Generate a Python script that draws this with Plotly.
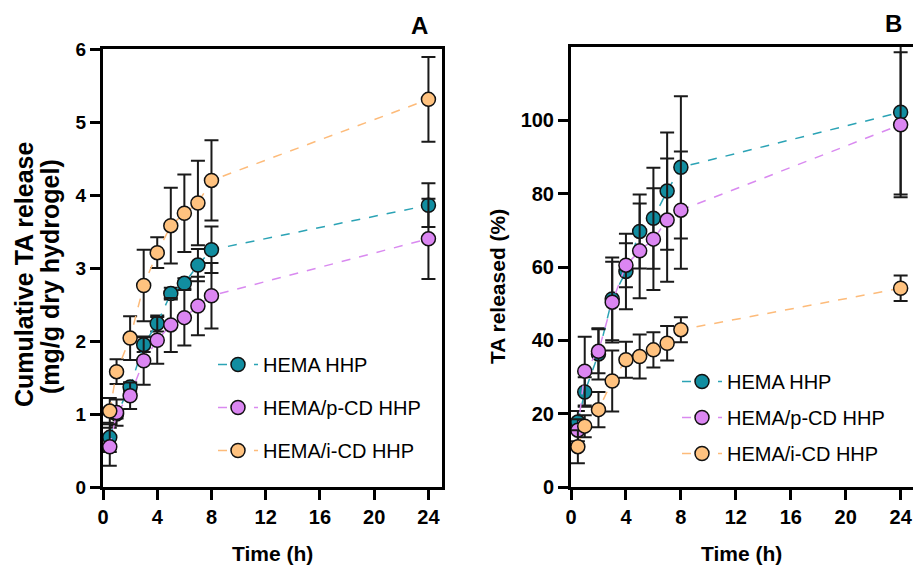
import plotly.graph_objects as go

# ---------------- data ----------------
time_h = [0.5, 1, 2, 3, 4, 5, 6, 7, 8, 24]
series_names = ["HEMA HHP", "HEMA/p-CD HHP", "HEMA/i-CD HHP"]

# Panel A: cumulative TA release (mg/g dry hydrogel)
cum_hema = [0.68, 1.00, 1.37, 1.95, 2.24, 2.65, 2.79, 3.04, 3.25, 3.86]
cum_hema_err = [0.20, 0.06, 0.06, 0.10, 0.11, 0.08, 0.07, 0.22, 0.32, 0.30]
cum_pcd = [0.55, 1.02, 1.25, 1.73, 2.01, 2.22, 2.32, 2.48, 2.62, 3.40]
cum_pcd_err = [0.26, 0.18, 0.18, 0.33, 0.32, 0.37, 0.38, 0.40, 0.45, 0.55]
cum_icd = [1.04, 1.58, 2.04, 2.76, 3.21, 3.58, 3.75, 3.89, 4.20, 5.31]
cum_icd_err = [0.18, 0.17, 0.30, 0.49, 0.21, 0.52, 0.53, 0.58, 0.55, 0.58]

# Panel B: TA released (%)
pct_hema = [17.7, 25.9, 36.3, 51.3, 58.8, 69.7, 73.3, 80.7, 87.2, 102.2]
pct_hema_err = [3.0, 4.0, 7.0, 11.3, 10.3, 10.1, 13.8, 16.0, 19.4, 22.4]
pct_pcd = [15.5, 31.6, 37.0, 50.4, 60.5, 64.4, 67.6, 72.8, 75.5, 98.8]
pct_pcd_err = [3.0, 9.4, 6.0, 11.0, 6.0, 12.9, 13.9, 16.8, 16.0, 19.8]
pct_icd = [11.0, 16.6, 21.1, 28.9, 34.7, 35.6, 37.4, 39.2, 42.9, 54.2]
pct_icd_err = [4.5, 3.0, 4.8, 8.3, 4.9, 6.0, 4.8, 4.7, 3.4, 3.5]

x_ticks = [0, 4, 8, 12, 16, 20, 24]
yA_ticks = [0, 1, 2, 3, 4, 5, 6]
yB_ticks = [0, 20, 40, 60, 80, 100]

marker_colors = ["#118DA0", "#DB86F2", "#FFC27F"]
line_colors = ["#2BA3B5", "#D98AF0", "#FDBB7A"]

W, H = 913, 566
FONT = "Liberation Sans, Arial, Helvetica, sans-serif"

fig = go.Figure()

panelA = [(cum_hema, cum_hema_err), (cum_pcd, cum_pcd_err), (cum_icd, cum_icd_err)]
panelB = [(pct_hema, pct_hema_err), (pct_pcd, pct_pcd_err), (pct_icd, pct_icd_err)]

for i, (vals, errs) in enumerate(panelA):
    fig.add_trace(go.Scatter(
        x=time_h, y=vals, name=series_names[i], mode="lines+markers",
        xaxis="x", yaxis="y", legend="legend", legendgroup="a%d" % i,
        line=dict(color=line_colors[i], width=1.5, dash="dash"),
        marker=dict(size=14, color=marker_colors[i], line=dict(color="#111111", width=1.5)),
        error_y=dict(type="data", array=errs, visible=True, color="#1a1a1a", thickness=2, width=7),
    ))

for i, (vals, errs) in enumerate(panelB):
    fig.add_trace(go.Scatter(
        x=time_h, y=vals, name=series_names[i], mode="lines+markers",
        xaxis="x2", yaxis="y2", legend="legend2", legendgroup="b%d" % i,
        line=dict(color=line_colors[i], width=1.5, dash="dash"),
        marker=dict(size=14, color=marker_colors[i], line=dict(color="#111111", width=1.5)),
        error_y=dict(type="data", array=errs, visible=True, color="#1a1a1a", thickness=2, width=7),
    ))

def px_x(p):
    return p / W

def px_y(p):
    return 1 - p / H

axis_common = dict(
    showgrid=False, zeroline=False, showline=True, linecolor="black", linewidth=3,
    ticks="outside", ticklen=10, tickwidth=3, tickcolor="black", automargin=False,
)

fig.update_layout(
    template="none",
    width=W, height=H,
    margin=dict(l=0, r=0, t=0, b=0, pad=0),
    paper_bgcolor="white", plot_bgcolor="white",
    font=dict(family=FONT, color="black"),
    xaxis=dict(domain=[px_x(103), px_x(442)], range=[0, 25], anchor="y",
               tickvals=x_ticks, mirror=True,
               tickfont=dict(size=20, family=FONT, weight="bold"), **axis_common),
    yaxis=dict(domain=[px_y(487), px_y(49)], range=[0, 6], anchor="x",
               tickvals=yA_ticks, mirror=True,
               tickfont=dict(size=19, family=FONT, weight="bold"), **axis_common),
    xaxis2=dict(domain=[px_x(571), 1.0], range=[0, 24.9], anchor="y2",
                tickvals=x_ticks, mirror=True,
                tickfont=dict(size=20, family=FONT, weight="bold"), **axis_common),
    yaxis2=dict(domain=[px_y(487), px_y(47)], range=[0, 120], anchor="x2",
                tickvals=yB_ticks, mirror=False,
                tickfont=dict(size=20, family=FONT, weight="bold"), **axis_common),
    legend=dict(x=px_x(213), y=px_y(345), xanchor="left", yanchor="top",
                bgcolor="rgba(0,0,0,0)", borderwidth=0, font=dict(size=20, family=FONT),
                tracegroupgap=14, itemwidth=40, traceorder="grouped"),
    legend2=dict(x=px_x(677), y=px_y(362), xanchor="left", yanchor="top",
                 bgcolor="rgba(0,0,0,0)", borderwidth=0, font=dict(size=20, family=FONT),
                 tracegroupgap=7, itemwidth=40, traceorder="grouped"),
    showlegend=True,
)

def ann(text, x, y, size, angle=0, bold=True):
    fig.add_annotation(
        text=text, x=px_x(x), y=px_y(y), xref="paper", yref="paper",
        xanchor="center", yanchor="middle", showarrow=False, textangle=angle,
        font=dict(size=size, family=FONT, color="black", weight="bold" if bold else "normal"),
    )

ann("Cumulative TA release", 24, 275, 25, angle=-90)
ann("(mg/g dry hydrogel)", 50, 277, 25, angle=-90)
ann("TA released (%)", 497, 287, 21, angle=-90)
ann("Time (h)", 272, 553, 21)
ann("Time (h)", 741, 553, 21)
ann("A", 419, 26, 24)
ann("B", 893, 24, 24)

fig.write_html("out.html", config={"displayModeBar": False},
               post_script="document.body.style.margin='0';document.body.style.overflow='hidden';")
